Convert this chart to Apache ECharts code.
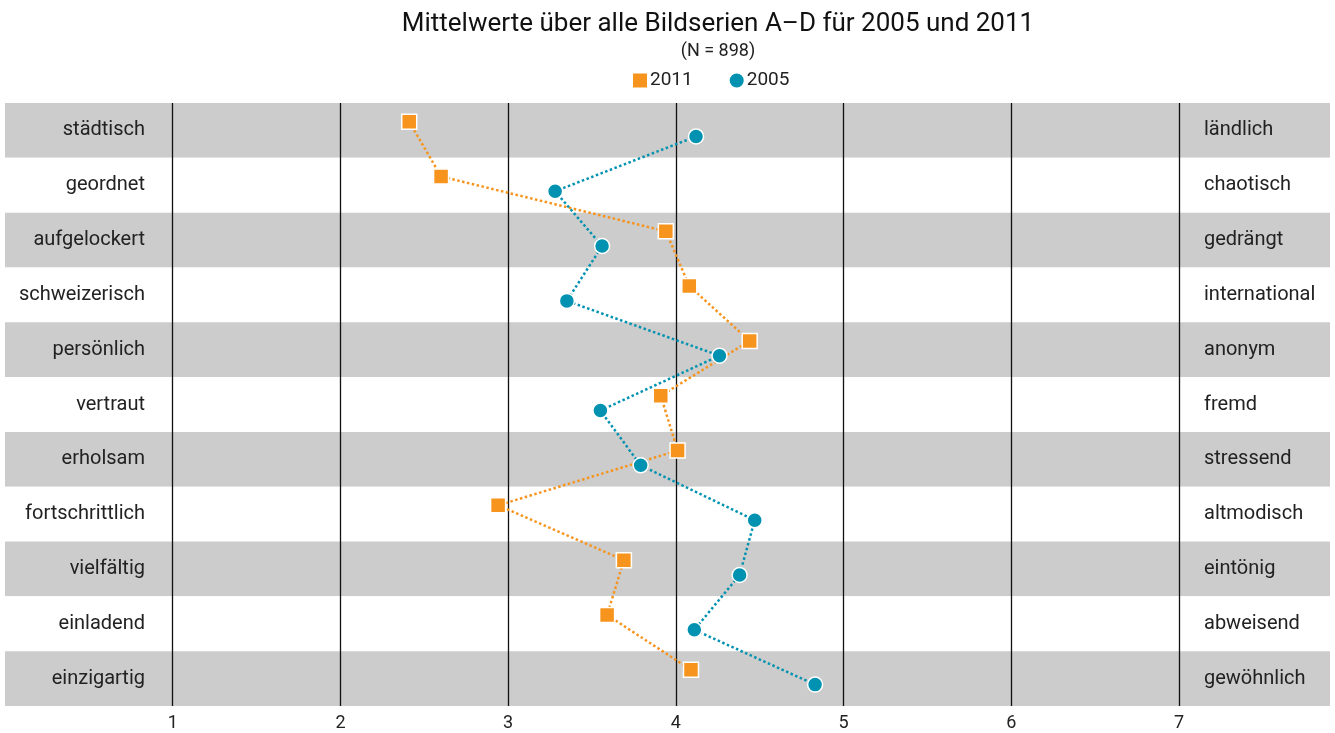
<!DOCTYPE html>
<html>
<head>
<meta charset="utf-8">
<script src="https://cdn.jsdelivr.net/npm/echarts@6/dist/echarts.min.js"></script>
<style>
  html, body { margin: 0; padding: 0; background: #fff; }
  #main { width: 1335px; height: 733px; }
</style>
</head>
<body>
<div id="main"></div>
<script>
var leftLabels = ['städtisch', 'geordnet', 'aufgelockert', 'schweizerisch', 'persönlich', 'vertraut',
                  'erholsam', 'fortschrittlich', 'vielfältig', 'einladend', 'einzigartig'];
var rightLabels = ['ländlich', 'chaotisch', 'gedrängt', 'international', 'anonym', 'fremd',
                   'stressend', 'altmodisch', 'eintönig', 'abweisend', 'gewöhnlich'];
var values2011 = [2.41, 2.60, 3.94, 4.08, 4.44, 3.91, 4.01, 2.94, 3.69, 3.59, 4.09];
var values2005 = [4.12, 3.28, 3.56, 3.35, 4.26, 3.55, 3.79, 4.47, 4.38, 4.11, 4.83];

var font = 'Roboto, "DejaVu Sans", sans-serif';
var orange = '#F7941D';
var teal = '#0092B0';

// small vertical shift so both markers of a row don't sit on top of each other
function rows(values, shift) {
    return values.map(function (v, i) { return [v, i + shift]; });
}

var myChart = echarts.init(document.getElementById('main'));
var option = {
    backgroundColor: '#fff',
    animation: false,
    textStyle: { fontFamily: font },
    title: [
        {
            text: 'Mittelwerte über alle Bildserien A–D für 2005 und 2011',
            left: 713, top: 6, textAlign: 'center',
            textStyle: { fontFamily: font, fontSize: 26, fontWeight: 'normal', color: '#111' }
        },
        {
            text: '(N = 898)',
            left: 713, top: 37, textAlign: 'center',
            textStyle: { fontFamily: font, fontSize: 18, fontWeight: 'normal', color: '#222' }
        }
    ],
    legend: {
        left: 626, top: 66,
        itemWidth: 16, itemHeight: 16, itemGap: 35,
        data: [
            { name: '2011', icon: 'rect' },
            { name: '2005', icon: 'circle' }
        ],
        textStyle: { fontFamily: font, fontSize: 19, color: '#222', padding: [0, 0, 0, -3] }
    },
    grid: { left: 5, right: 5, top: 103, bottom: 27 },
    xAxis: {
        type: 'value',
        min: 0, max: 7.9, interval: 1,
        axisLine: { show: false },
        axisTick: { show: false },
        axisLabel: {
            fontFamily: font, fontSize: 18, color: '#222', margin: 8,
            formatter: function (v) { return v >= 1 && v <= 7 ? String(v) : ''; }
        },
        splitLine: {
            show: true,
            lineStyle: {
                width: 1.3,
                color: ['rgba(0,0,0,0)', '#111', '#111', '#111', '#111', '#111', '#111', '#111']
            }
        }
    },
    yAxis: [
        {
            type: 'category', inverse: true, position: 'left',
            data: leftLabels,
            axisLine: { show: false }, axisTick: { show: false },
            axisLabel: { margin: -140, fontFamily: font, fontSize: 20, color: '#222', align: 'right' },
            splitArea: { show: true, areaStyle: { color: ['#cccccc', '#ffffff'] } }
        },
        {
            type: 'category', inverse: true, position: 'right',
            data: rightLabels,
            axisLine: { show: false }, axisTick: { show: false },
            axisLabel: { margin: -126, fontFamily: font, fontSize: 20, color: '#222', align: 'left' }
        },
        {
            type: 'value', inverse: true, min: -0.5, max: leftLabels.length - 0.5,
            show: false
        }
    ],
    series: [
        {
            name: '2011', type: 'line', yAxisIndex: 2,
            data: rows(values2011, -0.16),
            symbol: 'rect', symbolSize: 15,
            itemStyle: { color: orange, borderColor: '#fff', borderWidth: 1.5 },
            lineStyle: { color: orange, width: 2.5, type: 'dotted' },
            z: 3
        },
        {
            name: '2005', type: 'line', yAxisIndex: 2,
            data: rows(values2005, 0.11),
            symbol: 'circle', symbolSize: 15,
            itemStyle: { color: teal, borderColor: '#fff', borderWidth: 1.5 },
            lineStyle: { color: teal, width: 2.5, type: 'dotted' },
            z: 4
        }
    ]
};
myChart.setOption(option);
</script>
</body>
</html>
